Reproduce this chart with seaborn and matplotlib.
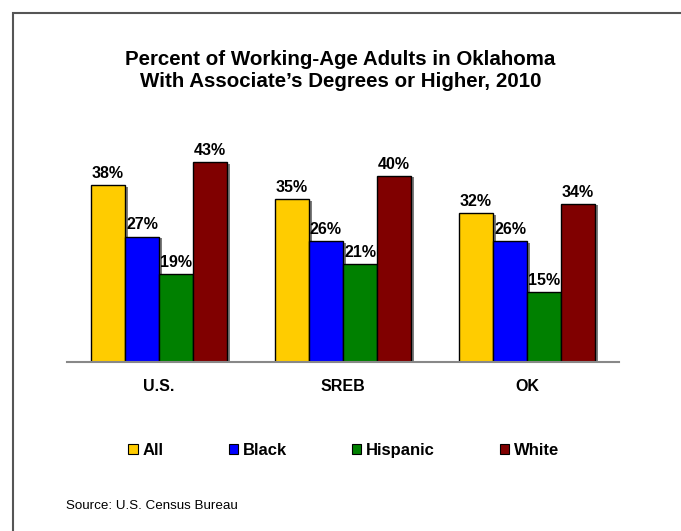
import matplotlib
matplotlib.use("Agg")
import matplotlib.pyplot as plt
import matplotlib.patheffects as pe
from matplotlib.patches import Rectangle, Patch
import pandas as pd
import seaborn as sns

regions = ["U.S.", "SREB", "OK"]
groups = ["All", "Black", "Hispanic", "White"]
all_pct = [38, 35, 32]
black_pct = [27, 26, 26]
hispanic_pct = [19, 21, 15]
white_pct = [43, 40, 34]
colors = ["#FFCC00", "#0000FF", "#008000", "#800000"]


def main() -> None:
    df = pd.DataFrame({
        "region": regions * 4,
        "group": [g for g in groups for _ in regions],
        "pct": all_pct + black_pct + hispanic_pct + white_pct,
    })

    sns.set_theme(style="white")
    plt.rcParams["font.family"] = ["Liberation Sans", "DejaVu Sans"]
    plt.rcParams["text.color"] = "black"
    plt.rcParams["xtick.color"] = "black"

    fig = plt.figure(figsize=(6.81, 5.31), dpi=100)
    ax = fig.add_axes([0.0984, 0.318, 0.8106, 0.438])
    sns.barplot(data=df, x="region", y="pct", hue="group", order=regions,
                hue_order=groups, palette=colors, width=0.74, gap=0,
                edgecolor="black", linewidth=1, saturation=1, legend=False, ax=ax)

    shadow = [pe.SimplePatchShadow(offset=(2, -1), shadow_rgbFace="#444444", alpha=0.7), pe.Normal()]
    for bar in ax.patches:
        bar.set_path_effects(shadow)
    for cont in ax.containers:
        ax.bar_label(cont, fmt="%d%%", padding=3, fontsize=11.5, fontweight="bold", color="black")

    ax.set_ylim(0, 50)
    ax.set_xlim(-0.5, 2.5)
    ax.set_xlabel("")
    ax.set_ylabel("")
    ax.set_yticks([])
    for s in ["left", "top", "right"]:
        ax.spines[s].set_visible(False)
    ax.spines["bottom"].set_color("#888888")
    ax.spines["bottom"].set_linewidth(1.5)
    ax.tick_params(axis="x", length=0, pad=12, labelsize=11.5, labelcolor="black")
    for lbl in ax.get_xticklabels():
        lbl.set_fontweight("bold")

    fig.text(0.5, 0.868, "Percent of Working-Age Adults in Oklahoma\nWith Associate\u2019s Degrees or Higher, 2010",
             ha="center", va="center", fontsize=14.8, fontweight="bold", linespacing=1.2, color="black")

    handles = [Patch(facecolor=c, edgecolor="black", linewidth=0.8) for c in colors]
    fig.legend(handles, groups, loc="center", bbox_to_anchor=(0.505, 0.151), ncol=4,
               frameon=False, handlelength=0.55, handleheight=0.55, handletextpad=0.3,
               columnspacing=3.9, prop={"weight": "bold", "size": 12})

    fig.text(0.097, 0.047, "Source: U.S. Census Bureau", fontsize=9.6, va="center", ha="left", color="black")

    fig.patches.append(Rectangle((13 / 681, -0.02), 1.5, 1 - 13 / 531 + 0.02, transform=fig.transFigure,
                                 fill=False, edgecolor="#555555", linewidth=1.5))

    fig.savefig("out.png", dpi=100)


if __name__ == '__main__':
    main()
